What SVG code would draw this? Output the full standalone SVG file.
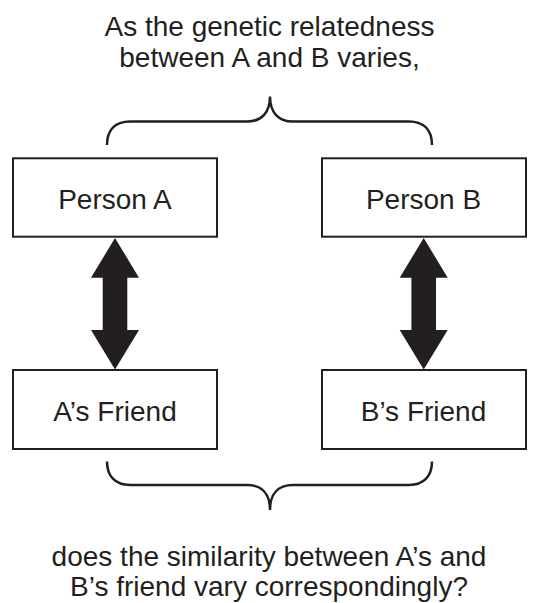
<svg xmlns="http://www.w3.org/2000/svg" width="542" height="603" viewBox="0 0 542 603">
<style>
.box{fill:#fff;stroke:#231f20;stroke-width:2}
.t{font-family:"Liberation Sans",Arial,sans-serif;font-size:28px;fill:#231f20;text-anchor:middle}
.brace{fill:none;stroke:#231f20;stroke-width:2.5}
.arr{fill:#231f20}
</style>
<rect width="542" height="603" fill="#fff"/>
<text class="t" x="269.5" y="36">As the genetic relatedness</text>
<text class="t" x="269.5" y="67">between A and B varies,</text>
<g id="connectors">
<path class="brace" d="M107,145 C107,130 115,121.5 130,121.5 L247,121.5 C262,121.5 270,112 270,96.5 C270,112 278,121.5 293,121.5 L409,121.5 C424,121.5 432,130 432,145"/>
<path class="brace" d="M107,461.5 C107,476 115,485 130,485 L247,485 C262,485 270,494 270,510 C270,494 278,485 293,485 L409,485 C424,485 432,476 432,461.5"/>
<path class="arr" d="M115,238 L139,277.7 L127.3,277.7 L127.3,330 L139,330 L115,369.5 L91,330 L102.7,330 L102.7,277.7 L91,277.7 Z"/>
<path class="arr" d="M423.7,238 L447.7,277.7 L436,277.7 L436,330 L447.7,330 L423.7,369.5 L399.7,330 L411.4,330 L411.4,277.7 L399.7,277.7 Z"/>
</g>
<g id="personA"><rect class="box" x="13" y="158.3" width="204" height="78.4"/><text class="t" x="115" y="208.5">Person A</text></g>
<g id="personB"><rect class="box" x="322" y="158.3" width="204" height="78.4"/><text class="t" x="423.5" y="208.5">Person B</text></g>
<g id="friendA"><rect class="box" x="13" y="370" width="204" height="79"/><text class="t" x="115" y="421">A’s Friend</text></g>
<g id="friendB"><rect class="box" x="322" y="370" width="204" height="79"/><text class="t" x="423.5" y="421">B’s Friend</text></g>
<text class="t" x="269" y="566">does the similarity between A’s and</text>
<text class="t" x="269" y="596">B’s friend vary correspondingly?</text>
</svg>
